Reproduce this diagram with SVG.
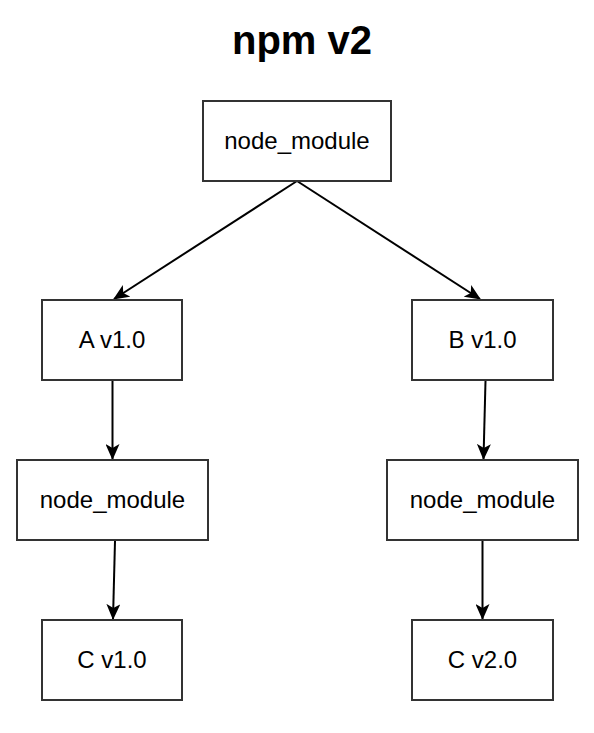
<svg xmlns="http://www.w3.org/2000/svg" width="594" height="733" viewBox="0 0 594 733">
  <style>
    .box { fill: #ffffff; stroke: #333333; stroke-width: 2; }
    .lbl { font-family: "Liberation Sans", Arial, Helvetica, sans-serif; font-size: 24px; fill: #000000; text-anchor: middle; }
    .title { font-family: "Liberation Sans", Arial, Helvetica, sans-serif; font-size: 40px; font-weight: bold; fill: #000000; text-anchor: middle; }
    .edge { fill: none; stroke: #000000; stroke-width: 2; }
  </style>
  <defs>
    <marker id="arrow" viewBox="0 0 16 14" refX="15" refY="7" markerWidth="16" markerHeight="14" markerUnits="userSpaceOnUse" orient="auto">
      <path d="M0,0 L16,7 L0,14 L4,7 Z" fill="#000000"/>
    </marker>
  </defs>
  <rect width="594" height="733" fill="#ffffff"/>
  <text class="title" x="302" y="54">npm v2</text>

  <g id="connectors">
    <line class="edge" x1="297" y1="181" x2="114" y2="299" marker-end="url(#arrow)"/>
    <line class="edge" x1="297" y1="181" x2="480" y2="299" marker-end="url(#arrow)"/>
    <line class="edge" x1="112.5" y1="381" x2="112.5" y2="459" marker-end="url(#arrow)"/>
    <line class="edge" x1="485.5" y1="381" x2="483.5" y2="459" marker-end="url(#arrow)"/>
    <line class="edge" x1="115" y1="541" x2="113" y2="619" marker-end="url(#arrow)"/>
    <line class="edge" x1="482.5" y1="541" x2="482.5" y2="619" marker-end="url(#arrow)"/>
  </g>

  <g id="root">
    <rect class="box" x="203" y="101" width="188" height="80"/>
    <text class="lbl" x="297" y="149">node_module</text>
  </g>
  <g id="a">
    <rect class="box" x="42" y="300" width="140" height="80"/>
    <text class="lbl" x="112" y="348">A v1.0</text>
  </g>
  <g id="b">
    <rect class="box" x="412" y="300" width="141" height="80"/>
    <text class="lbl" x="482.5" y="348">B v1.0</text>
  </g>
  <g id="nm-a">
    <rect class="box" x="17" y="460" width="191" height="80"/>
    <text class="lbl" x="112.5" y="508">node_module</text>
  </g>
  <g id="nm-b">
    <rect class="box" x="387" y="460" width="191" height="80"/>
    <text class="lbl" x="482.5" y="508">node_module</text>
  </g>
  <g id="c1">
    <rect class="box" x="42" y="620" width="140" height="80"/>
    <text class="lbl" x="112" y="668">C v1.0</text>
  </g>
  <g id="c2">
    <rect class="box" x="412" y="620" width="141" height="80"/>
    <text class="lbl" x="482.5" y="668">C v2.0</text>
  </g>
</svg>
